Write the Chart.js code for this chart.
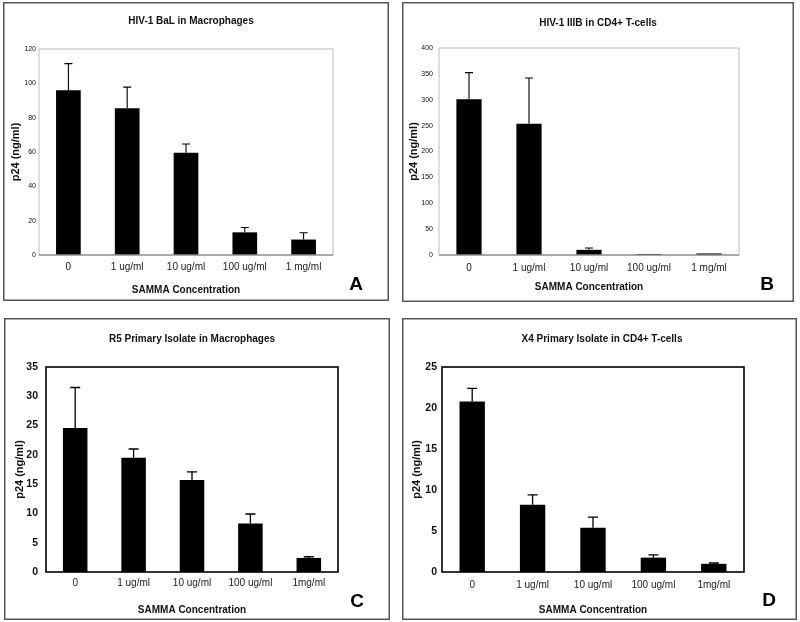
<!DOCTYPE html>
<html>
<head>
<meta charset="utf-8">
<script src="https://cdn.jsdelivr.net/npm/chart.js@4.4.1/dist/chart.umd.min.js"></script>
<style>
  body { margin: 0; background: #fff; width: 800px; height: 622px; position: relative; overflow: hidden;
         font-family: "Liberation Sans", Arial, sans-serif; }
  .panel { position: absolute; box-shadow: inset 0 0 0 1.5px #555; }
  .panel canvas { position: absolute; left: 0; top: 0; }
  .ttl { position: absolute; font-weight: bold; font-size: 10px; color: #111; white-space: nowrap;
         transform: translate(-50%, -50%); }
  .letter { position: absolute; font-weight: bold; font-size: 19px; color: #000;
            transform: translate(-50%, -50%); }
</style>
</head>
<body>
<script>
'use strict';

/* ── data ───────────────────────────────────────────── */
const catsTop    = ['0', '1 ug/ml', '10 ug/ml', '100 ug/ml', '1 mg/ml'];
const catsBottom = ['0', '1 ug/ml', '10 ug/ml', '100 ug/ml', '1mg/ml'];

const balMeans  = [96, 85.5, 59.5, 13.2, 9];
const balSD     = [15.5, 12.3, 5.2, 2.8, 4];
const iiibMeans = [301, 253.5, 10, 2, 3];
const iiibSD    = [51.5, 88.5, 3.5, 0, 0];
const r5Means   = [24.6, 19.5, 15.7, 8.3, 2.4];
const r5SD      = [6.9, 1.5, 1.4, 1.6, 0.2];
const x4Means   = [20.8, 8.2, 5.4, 1.75, 1.0];
const x4SD      = [1.6, 1.2, 1.3, 0.35, 0.1];

const yMax  = [120, 400, 35, 25];
const yStep = [20, 50, 5, 5];

const titles  = ['HIV-1 BaL in Macrophages', 'HIV-1 IIIB in CD4+ T-cells',
                 'R5 Primary Isolate in Macrophages', 'X4 Primary Isolate in CD4+ T-cells'];
const letters = ['A', 'B', 'C', 'D'];

/* ── panel layout ───────────────────────────────────── */
const panels = [
  { cats: catsTop, means: balMeans, sd: balSD, style: 'light',
    box: { x: 3, y: 2, w: 386, h: 299 }, plot: { l: 39, t: 49, r: 333, b: 255 },
    ttl: { x: 191, y: 20 }, let: { x: 356, y: 284 }, yTitlePad: 6.4, yTickPad: 3, xTickPad: 6, xTitlePad: 5 },
  { cats: catsTop, means: iiibMeans, sd: iiibSD, style: 'light',
    box: { x: 402, y: 2, w: 392, h: 300 }, plot: { l: 439, t: 48, r: 739, b: 255 },
    ttl: { x: 598, y: 22 }, let: { x: 767, y: 284 }, yTitlePad: 5.4, yTickPad: 6, xTickPad: 7, xTitlePad: 9 },
  { cats: catsBottom, means: r5Means, sd: r5SD, style: 'dark',
    box: { x: 4, y: 318, w: 386, h: 302 }, plot: { l: 46, t: 367, r: 338, b: 572 },
    ttl: { x: 192, y: 338 }, let: { x: 357, y: 601 }, yTitlePad: 9, yTickPad: 8, xTickPad: 5, xTitlePad: 4 },
  { cats: catsBottom, means: x4Means, sd: x4SD, style: 'dark',
    box: { x: 402, y: 318, w: 395, h: 302 }, plot: { l: 442, t: 367, r: 744, b: 572 },
    ttl: { x: 602, y: 338 }, let: { x: 769, y: 600 }, yTitlePad: 8.5, yTickPad: 5, xTickPad: 7, xTitlePad: 4 }
];

/* ── plot frame + error bars ────────────────────────── */
const framePlugin = {
  id: 'frame',
  afterDatasetsDraw(chart, args, opts) {
    const { ctx, chartArea: a } = chart;
    ctx.save();
    ctx.strokeStyle = opts.color;
    ctx.lineWidth = opts.width;
    ctx.strokeRect(a.left, a.top, a.right - a.left, a.bottom - a.top);
    if (opts.axisColor) {
      ctx.strokeStyle = opts.axisColor;
      ctx.beginPath();
      ctx.moveTo(a.left, a.bottom);
      ctx.lineTo(a.right, a.bottom);
      ctx.stroke();
    }
    ctx.restore();
  }
};

const errorBarPlugin = {
  id: 'errbars',
  afterDatasetsDraw(chart, args, opts) {
    const { ctx } = chart;
    const y = chart.scales.y;
    const ds = chart.data.datasets[0];
    const meta = chart.getDatasetMeta(0);
    ctx.save();
    ctx.strokeStyle = '#000';
    ctx.lineWidth = opts.width;
    meta.data.forEach((bar, i) => {
      const sd = ds.sd[i];
      if (!sd) return;
      const yTop = y.getPixelForValue(ds.data[i] + sd);
      ctx.beginPath();
      ctx.moveTo(bar.x, bar.y);
      ctx.lineTo(bar.x, yTop);
      ctx.moveTo(bar.x - opts.cap / 2, yTop);
      ctx.lineTo(bar.x + opts.cap / 2, yTop);
      ctx.stroke();
    });
    ctx.restore();
  }
};

/* ── build ──────────────────────────────────────────── */
panels.forEach((p, k) => {
  const wrap = document.createElement('div');
  wrap.className = 'panel';
  Object.assign(wrap.style, { left: p.box.x + 'px', top: p.box.y + 'px', width: p.box.w + 'px', height: p.box.h + 'px' });
  const cv = document.createElement('canvas');
  cv.width = p.box.w; cv.height = p.box.h;
  wrap.appendChild(cv);

  const t = document.createElement('div');
  t.className = 'ttl';
  t.textContent = titles[k];
  t.style.left = (p.ttl.x - p.box.x) + 'px';
  t.style.top = (p.ttl.y - p.box.y) + 'px';
  wrap.appendChild(t);

  const l = document.createElement('div');
  l.className = 'letter';
  l.textContent = letters[k];
  l.style.left = (p.let.x - p.box.x) + 'px';
  l.style.top = (p.let.y - p.box.y) + 'px';
  wrap.appendChild(l);
  document.body.appendChild(wrap);

  const light = p.style === 'light';
  const yW = p.plot.l - p.box.x;
  const xH = p.box.y + p.box.h - p.plot.b;

  new Chart(cv, {
    type: 'bar',
    data: {
      labels: p.cats,
      datasets: [{ data: p.means, sd: p.sd, backgroundColor: '#000', borderWidth: 0,
                   categoryPercentage: 1, barPercentage: 0.42 }]
    },
    options: {
      responsive: false,
      animation: false,
      events: [],
      layout: { padding: { left: 0, bottom: 0, top: p.plot.t - p.box.y, right: p.box.x + p.box.w - p.plot.r } },
      plugins: {
        legend: { display: false },
        tooltip: { enabled: false },
        frame: light ? { color: '#bdbdbd', width: 1, axisColor: '#777' } : { color: '#000', width: 1.6 },
        errbars: { width: light ? 1.1 : 1.3, cap: light ? 8 : 10 }
      },
      scales: {
        x: {
          grid: { display: false, drawTicks: false },
          border: { display: false },
          ticks: { color: '#222', padding: p.xTickPad, maxRotation: 0, autoSkip: false,
                   font: { family: 'Liberation Sans', size: 10 } },
          title: { display: true, text: 'SAMMA Concentration', color: '#111',
                   padding: { top: 0, bottom: p.xTitlePad },
                   font: { family: 'Liberation Sans', size: 10, weight: 'bold' } },
          afterFit: s => { s.height = xH; }
        },
        y: {
          min: 0, max: yMax[k],
          grid: { display: false, drawTicks: false },
          border: { display: false },
          ticks: { stepSize: yStep[k], color: '#111', padding: p.yTickPad,
                   font: light ? { family: 'Liberation Sans', size: 7 }
                               : { family: 'Liberation Sans', size: 10.5, weight: 'bold' } },
          title: { display: true, text: 'p24 (ng/ml)', color: '#111',
                   padding: { top: p.yTitlePad, bottom: 0 },
                   font: { family: 'Liberation Sans', size: 11, weight: 'bold' } },
          afterFit: s => { s.width = yW; }
        }
      }
    },
    plugins: [framePlugin, errorBarPlugin]
  });
});
</script>
</body>
</html>
